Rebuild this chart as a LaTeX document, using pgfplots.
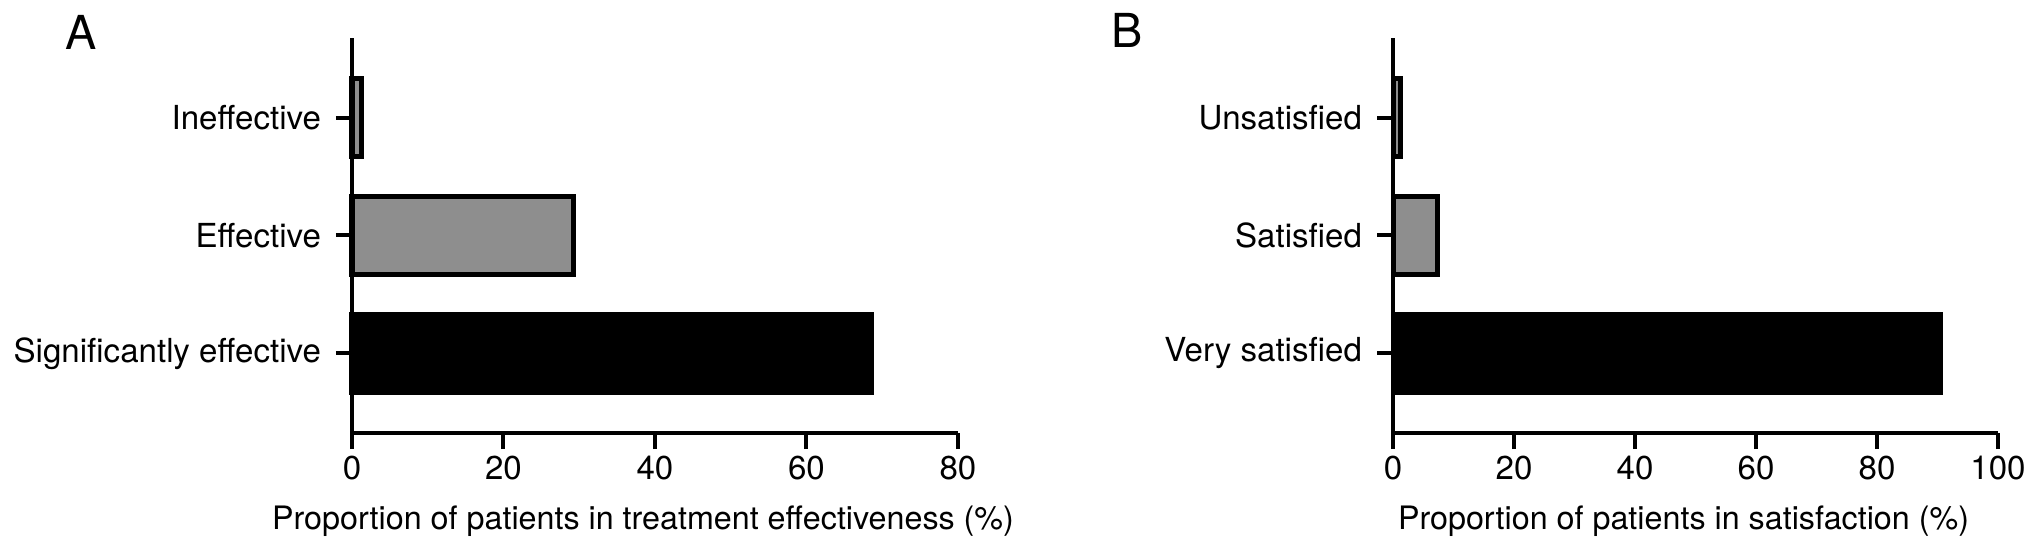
\documentclass[border=0pt]{standalone}
\usepackage{fontspec}
\setmainfont{TeX Gyre Heros}
\usepackage{pgfplots}
\pgfplotsset{compat=1.18}
\definecolor{bargray}{HTML}{8E8E8E}

\pgfplotsset{panel/.style={
    width=303bp, height=197.5bp, scale only axis,
    xbar, bar shift=0pt, bar width=39bp,
    axis x line*=bottom, axis y line*=left,
    xtick pos=left, ytick pos=left,
    axis line style={line width=2bp, black},
    every tick/.style={black, line width=2bp},
    tick align=outside, major tick length=8bp,
    ymin=-0.675, ymax=2.675, ytick={0,1,2},
    xmin=0,
    tick label style={font=\fontsize{16.6}{19}\selectfont},
    y tick label style={xshift=-4bp},
    label style={font=\fontsize{16.2}{19}\selectfont},
    xlabel style={yshift=-6bp, xshift=-6bp},
    /pgf/number format/assume math mode=true,
    clip=false,
    anchor=south west,
}}

\begin{document}
\begin{tikzpicture}
\useasboundingbox (0,0) rectangle (1016bp,275.5bp);

% panel A
\begin{axis}[panel, at={(176bp,59bp)},
    xmax=80, xtick={0,20,...,80},
    yticklabels={Significantly effective,Effective,Ineffective},
    xlabel={Proportion of patients in treatment effectiveness (\%)}]
  \addplot[fill=black, draw=black, line width=2.5bp] coordinates {(68.6,0)};
  \addplot[fill=bargray, draw=black, line width=2.5bp] coordinates {(29.3,1)};
  \addplot[fill=bargray, draw=black, line width=2.5bp] coordinates {(1.3,2)};
\end{axis}

% panel B
\begin{axis}[panel, at={(696.5bp,59bp)}, width=302.5bp,
    xmax=100, xtick={0,20,...,100},
    yticklabels={Very satisfied,Satisfied,Unsatisfied},
    xlabel={Proportion of patients in satisfaction (\%)}]
  \addplot[fill=black, draw=black, line width=2.5bp] coordinates {(90.5,0)};
  \addplot[fill=bargray, draw=black, line width=2.5bp] coordinates {(7.4,1)};
  \addplot[fill=bargray, draw=black, line width=2.5bp] coordinates {(1.3,2)};
\end{axis}

\node at (40.5bp,259.5bp) {\fontsize{23.5}{28}\selectfont A};
\node at (563.5bp,260.5bp) {\fontsize{23.5}{28}\selectfont B};
\end{tikzpicture}
\end{document}
